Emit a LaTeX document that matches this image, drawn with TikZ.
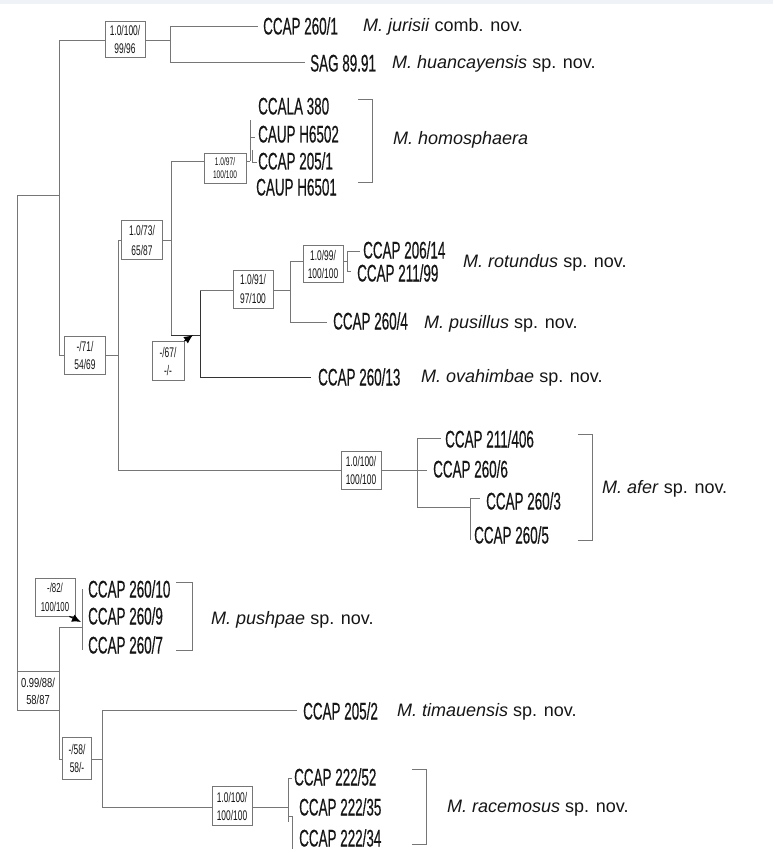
\documentclass[tikz,border=0pt]{standalone}
\usepackage{fontspec}
\setmainfont{Liberation Sans}
\newfontfamily\strainfont[FakeStretch=0.56,FakeBold=0.4]{Liberation Sans}
\newfontfamily\boxfont[FakeStretch=0.6]{Liberation Sans}
\newfontfamily\boxfontwide[FakeStretch=0.72]{Liberation Sans}
\usetikzlibrary{arrows.meta}
\definecolor{branchc}{RGB}{118,118,118}
\definecolor{topband}{RGB}{239,243,247}
\definecolor{inkc}{RGB}{22,22,22}
\tikzset{
  branch/.style={draw=branchc, line width=0.8pt},
  darkbranch/.style={draw=black!80, line width=0.8pt},
  strain/.style={anchor=west, inner sep=0pt, text=inkc, text height=17pt, text depth=0pt,
    font=\strainfont\fontsize{24}{24}\selectfont},
  species/.style={anchor=west, inner sep=0pt, text=inkc, text height=13pt, text depth=0pt,
    font=\fontsize{18}{18}\selectfont},
  supbox/.style={draw=branchc, fill=white, line width=0.8pt, inner sep=0pt, align=center,
    text=inkc, font=\boxfont\fontsize{14}{18}\selectfont},
  bracketline/.style={draw=branchc, line width=0.8pt},
  suparrow/.style={draw=black, line width=1.2pt, -{Latex[length=9pt,width=8pt]}}
}
\begin{document}
\begin{tikzpicture}[x=1pt,y=-1pt]
\useasboundingbox (0,0) rectangle (773,853);
\fill[topband] (0,0) rectangle (773,4);

% ---------- internal node coordinates ----------
\coordinate (root)  at (17,195);
\coordinate (rootb) at (17,691);
\coordinate (A)  at (59,195);
\coordinate (At) at (59,40);
\coordinate (Ab) at (59,355);
\coordinate (C)  at (170,40);
\coordinate (Ct) at (170,26);
\coordinate (Cb) at (170,62);
\coordinate (t1) at (258,26);
\coordinate (t2) at (305,62);
\coordinate (D)  at (118,355);
\coordinate (Dt) at (118,240);
\coordinate (Db) at (118,470);
\coordinate (E)  at (171,240);
\coordinate (Et) at (171,161);
\coordinate (Eb) at (171,335);
\coordinate (H0) at (250,161);
\coordinate (H0t) at (250,120);
\coordinate (H0k) at (255,137);
\coordinate (H1t) at (252,150);
\coordinate (H1b) at (252,162);
\coordinate (H1e) at (257,162);
\coordinate (F)  at (200,335);
\coordinate (Ft) at (200,290);
\coordinate (Fb) at (200,377);
\coordinate (G)  at (290,290);
\coordinate (Gt) at (290,261);
\coordinate (Gb) at (290,322);
\coordinate (Hr) at (347,261);
\coordinate (Hrt) at (347,251);
\coordinate (Hrb) at (347,271);
\coordinate (t206) at (360,251);
\coordinate (t211) at (351,271);
\coordinate (t2604) at (327,322);
\coordinate (t26013) at (311,377);
\coordinate (I)  at (417,470);
\coordinate (It) at (417,438);
\coordinate (Ib) at (417,507);
\coordinate (t406) at (441,438);
\coordinate (t2606) at (427,470);
\coordinate (J)  at (470,507);
\coordinate (Jt) at (470,498);
\coordinate (Jb) at (470,540);
\coordinate (t2603) at (480,498);
\coordinate (K)  at (59,691);
\coordinate (Kt) at (59,627);
\coordinate (Kb) at (59,759);
\coordinate (Lp) at (82,627);
\coordinate (Lpt) at (82,589);
\coordinate (Lpb) at (82,650);
\coordinate (M)  at (102,759);
\coordinate (Mt) at (102,710);
\coordinate (Mb) at (102,807);
\coordinate (t2052) at (297,710);
\coordinate (N)  at (288,807);
\coordinate (Nt) at (288,778);
\coordinate (Nb) at (288,822);
\coordinate (t22252) at (292,778);
\coordinate (N2) at (288,816);
\coordinate (N2a) at (292,816);
\coordinate (N2b) at (292,849);

% ---------- branches ----------
\draw[branch] (root) -- (rootb);
\draw[branch] (root) -- (A);
\draw[branch] (At) -- (Ab);
\draw[branch] (At) -- (C);
\draw[branch] (Ct) -- (Cb);
\draw[branch] (Ct) -- (t1);
\draw[branch] (Cb) -- (t2);
\draw[branch] (Ab) -- (D);
\draw[branch] (Dt) -- (Db);
\draw[branch] (Dt) -- (E);
\draw[branch] (Et) -- (Eb);
\draw[branch] (Et) -- (H0);
\draw[branch] (H0t) -- (H0);
\draw[branch] (H0 |- H0k) -- (H0k);
\draw[branch] (H1t) -- (H1b) -- (H1e);
\draw[darkbranch] (Eb) -- (F);
\draw[darkbranch] (Ft) -- (Fb);
\draw[darkbranch] (Fb) -- (t26013);
\draw[branch] (Ft) -- (G);
\draw[branch] (Gt) -- (Gb);
\draw[branch] (Gt) -- (Hr);
\draw[branch] (Hrt) -- (Hrb);
\draw[branch] (Hrt) -- (t206);
\draw[branch] (Hrb) -- (t211);
\draw[branch] (Gb) -- (t2604);
\draw[branch] (Db) -- (I);
\draw[branch] (It) -- (Ib);
\draw[branch] (It) -- (t406);
\draw[branch] (I) -- (t2606);
\draw[branch] (Ib) -- (J);
\draw[branch] (Jt) -- (Jb);
\draw[branch] (Jt) -- (t2603);
\draw[branch] (rootb) -- (K);
\draw[branch] (Kt) -- (Kb);
\draw[branch] (Kt) -- (Lp);
\draw[branch] (Lpt) -- (Lpb);
\draw[branch] (Kb) -- (M);
\draw[branch] (Mt) -- (Mb);
\draw[branch] (Mt) -- (t2052);
\draw[branch] (Mb) -- (N);
\draw[branch] (Nt) -- (Nb);
\draw[branch] (Nt) -- (t22252);
\draw[branch] (N2) -- (N2a) -- (N2b);

% ---------- support boxes ----------
\node[supbox, minimum width=40pt, minimum height=36pt] (B1) at (125,39) {1.0/100/\\99/96};
\node[supbox, minimum width=42pt, minimum height=30pt, font=\boxfont\fontsize{11}{12.5}\selectfont] (B2) at (225,168) {1.0/97/\\100/100};
\node[supbox, minimum width=41pt, minimum height=39pt, font=\boxfont\fontsize{14}{20}\selectfont] (B3) at (142,240) {1.0/73/\\65/87};
\node[supbox, minimum width=41pt, minimum height=38pt] (B4) at (85,355) {-/71/\\54/69};
\node[supbox, minimum width=32pt, minimum height=39pt] (B5) at (168,361) {-/67/\\-/-};
\node[supbox, minimum width=40pt, minimum height=38pt, font=\boxfont\fontsize{14}{19}\selectfont] (B6) at (253,289) {1.0/91/\\97/100};
\node[supbox, minimum width=40pt, minimum height=37pt] (B7) at (323,264) {1.0/99/\\100/100};
\node[supbox, minimum width=40pt, minimum height=38pt] (B8) at (361,470) {1.0/100/\\100/100};
\node[supbox, minimum width=40pt, minimum height=38pt, font=\boxfont\fontsize{13}{19}\selectfont] (B9) at (55,597) {-/82/\\100/100};
\node[supbox, minimum width=42pt, minimum height=39pt, font=\boxfontwide\fontsize{13}{17}\selectfont] (B10) at (38,691) {0.99/88/\\58/87};
\node[supbox, minimum width=29pt, minimum height=42pt] (B11) at (77,758) {-/58/\\58/-};
\node[supbox, minimum width=40pt, minimum height=39pt] (B12) at (232,806) {1.0/100/\\100/100};

\coordinate (a5) at (193,335);
\coordinate (a9) at (81,622);
\draw[suparrow] (B5.north east) -- (a5);
\draw[suparrow] ([xshift=-6pt]B9.south east) -- (a9);

% ---------- strain labels ----------
\node[strain] (L1) at (263,26) {CCAP 260/1};
\node[strain] (L2) at (310,63) {SAG 89.91};
\node[strain] (L3) at (258,106) {CCALA 380};
\node[strain] (L4) at (258,134) {CAUP H6502};
\node[strain] (L5) at (258,161) {CCAP 205/1};
\node[strain] (L6) at (256,187) {CAUP H6501};
\node[strain] (L7) at (363,250) {CCAP 206/14};
\node[strain] (L8) at (357,273) {CCAP 211/99};
\node[strain] (L9) at (333,321) {CCAP 260/4};
\node[strain] (L10) at (318,377) {CCAP 260/13};
\node[strain] (L11) at (445,439) {CCAP 211/406};
\node[strain] (L12) at (433,469) {CCAP 260/6};
\node[strain] (L13) at (486,501) {CCAP 260/3};
\node[strain] (L14) at (474,535) {CCAP 260/5};
\node[strain] (L15) at (88,589) {CCAP 260/10};
\node[strain] (L16) at (88,616) {CCAP 260/9};
\node[strain] (L17) at (88,645) {CCAP 260/7};
\node[strain] (L18) at (303,711) {CCAP 205/2};
\node[strain] (L19) at (294,777) {CCAP 222/52};
\node[strain] (L20) at (299,807) {CCAP 222/35};
\node[strain] (L21) at (299,838) {CCAP 222/34};

% ---------- brackets ----------
\coordinate (bh1) at (358,99);  \coordinate (bh2) at (372,182);
\draw[bracketline] (bh1) -- (bh1 -| bh2) -- (bh2) -- (bh2 -| bh1);
\coordinate (ba1) at (578,434); \coordinate (ba2) at (592,540);
\draw[bracketline] (ba1) -- (ba1 -| ba2) -- (ba2) -- (ba2 -| ba1);
\coordinate (bp1) at (176,582); \coordinate (bp2) at (192,650);
\draw[bracketline] (bp1) -- (bp1 -| bp2) -- (bp2) -- (bp2 -| bp1);
\coordinate (br1) at (412,769); \coordinate (br2) at (426,844);
\draw[bracketline] (br1) -- (br1 -| br2) -- (br2) -- (br2 -| br1);

% ---------- species labels ----------
\node[species] (S1) at (363,25) {\textit{M. jurisii} comb. nov.};
\node[species] (S2) at (392,62) {\textit{M. huancayensis} sp. nov.};
\node[species] (S3) at (393,138) {\textit{M. homosphaera}};
\node[species] (S4) at (463,261) {\textit{M. rotundus} sp. nov.};
\node[species] (S5) at (424,322) {\textit{M. pusillus} sp. nov.};
\node[species] (S6) at (421,376) {\textit{M. ovahimbae} sp. nov.};
\node[species] (S7) at (602,487) {\textit{M. afer} sp. nov.};
\node[species] (S8) at (211,618) {\textit{M. pushpae} sp. nov.};
\node[species] (S9) at (397,710) {\textit{M. timauensis} sp. nov.};
\node[species] (S10) at (447,806) {\textit{M. racemosus} sp. nov.};
\end{tikzpicture}
\end{document}
